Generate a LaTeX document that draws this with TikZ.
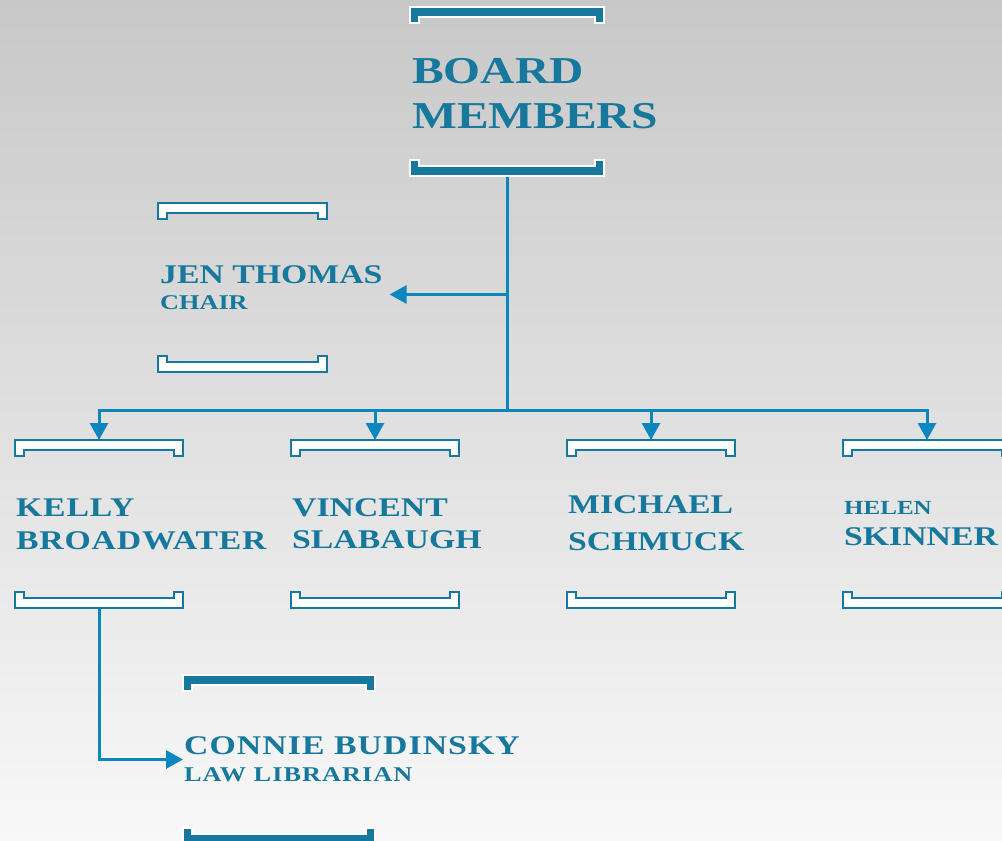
\documentclass[tikz,border=0pt]{standalone}
\usepackage{fontspec}
\newfontfamily\engr[FakeStretch=1.25]{Liberation Serif}
\usepackage{tikz}
\usetikzlibrary{positioning,calc,arrows.meta}
\definecolor{orgblue}{HTML}{15789C}
\definecolor{linkblue}{HTML}{0B86BF}
\definecolor{bgtop}{HTML}{C8C8C8}
\definecolor{bgbot}{HTML}{F8F8F8}
\tikzstyle{boxframe} = [inner sep=0pt, outer sep=0pt, minimum width=168pt, minimum height=168pt]
\tikzstyle{persontxt} = [anchor=west, align=left, inner sep=1pt, text=orgblue,
  font=\engr\bfseries\fontsize{27}{33}\selectfont]
\tikzstyle{line} = [draw, linkblue, line width=3pt, -{Triangle[length=17pt,width=18pt]}]
\tikzstyle{hollowbr} = [draw=orgblue, fill=white, line width=2pt]
\tikzstyle{solidbr} = [draw=white, fill=orgblue, line width=2pt]
% top and bottom bracket of a frame
\newcommand{\bracketpair}[2]{%
  \draw[#2] (#1.north west) -- (#1.north east) -- ++(0,16) -- ++(-9,0) -- ++(0,-6)
    -- ($(#1.north west)+(9,10)$) -- ++(0,6) -- ++(-9,0) -- cycle;
  \draw[#2] (#1.south west) -- (#1.south east) -- ++(0,-16) -- ++(-9,0) -- ++(0,6)
    -- ($(#1.south west)+(9,-10)$) -- ++(0,-6) -- ++(-9,0) -- cycle;
}
\begin{document}
\begin{tikzpicture}[x=1pt, y=-1pt]
\useasboundingbox (0,0) rectangle (1002,841);
\shade[top color=bgtop, bottom color=bgbot] (0,0) rectangle (1002,841);

    % frames
\node [boxframe, minimum width=194pt, minimum height=169pt] (board) at (507,91.5) {};
\node [boxframe, minimum width=169pt, minimum height=169pt] (jen) at (242.5,287.5) {};
\node [boxframe] (kelly) at (99,524) {};
\node [boxframe] (vincent) at (375,524) {};
\node [boxframe] (michael) at (651,524) {};
\node [boxframe] (helen) at (927,524) {};
\node [boxframe, minimum width=192pt, minimum height=169pt] (connie) at (279,759.5) {};
\coordinate (hub) at (507,410);

    % texts
\node [persontxt, font=\engr\bfseries\fontsize{38}{45}\selectfont] (boardtxt) at ([xshift=1pt,yshift=-2pt]board.west) {BOARD\\MEMBERS};
\node [persontxt, font=\engr\bfseries\fontsize{21}{26}\selectfont] (jentxt) at ([xshift=1pt]jen.west) {{\fontsize{27}{26}\selectfont JEN THOMAS}\\CHAIR};
\node [persontxt, font=\engr\bfseries\addfontfeature{LetterSpace=3}\fontsize{27}{33}\selectfont] (kellytxt) at (kelly.west) {KELLY\\BROADWATER};
\node [persontxt, font=\engr\bfseries\fontsize{27}{32}\selectfont] (vincenttxt) at (vincent.west) {VINCENT\\SLABAUGH};
\node [persontxt, font=\engr\bfseries\fontsize{27}{37}\selectfont] (michaeltxt) at ([yshift=1pt]michael.west) {MICHAEL\\SCHMUCK};
\node [persontxt, font=\engr\bfseries\fontsize{27}{31}\selectfont] (helentxt) at (helen.west) {{\fontsize{20}{31}\selectfont HELEN}\\SKINNER};
\node [persontxt, font=\engr\bfseries\addfontfeature{LetterSpace=5}\fontsize{21}{27}\selectfont] (connietxt) at (connie.west) {{\fontsize{27}{27}\selectfont\addfontfeature{LetterSpace=4} CONNIE BUDINSKY}\\LAW LIBRARIAN};
\coordinate (jenarrow) at ([xshift=6pt,yshift=-7pt]jentxt.east);

    % edges
\draw [linkblue, line width=3pt] (board.south) -- (hub);
\path [line] (hub) -| (kelly.north);
\path [line] (hub) -| (vincent.north);
\path [line] (hub) -| (michael.north);
\path [line] (hub) -| (helen.north);
\path [line] (board.south |- jenarrow) -- (jenarrow);
\path [line] (kelly.south) |- (connie.west);

    % brackets
\bracketpair{board}{solidbr}
\bracketpair{jen}{hollowbr}
\bracketpair{kelly}{hollowbr}
\bracketpair{vincent}{hollowbr}
\bracketpair{michael}{hollowbr}
\bracketpair{helen}{hollowbr}
\bracketpair{connie}{solidbr}
\end{tikzpicture}
\end{document}
